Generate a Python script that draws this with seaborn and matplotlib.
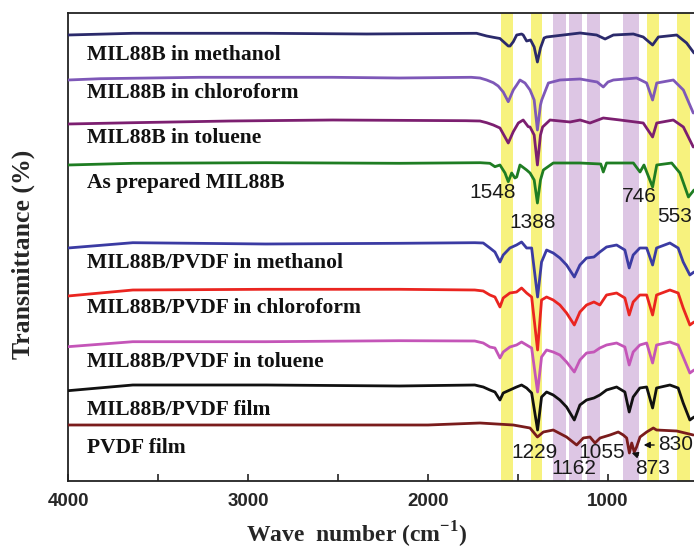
import numpy as np
import pandas as pd
import matplotlib
matplotlib.use("Agg")
import matplotlib.pyplot as plt
import seaborn as sns

# ---------------- data (wavenumber cm-1, transmittance a.u.) ----------------
wn_mil_methanol = [4000, 3640, 2900, 2340, 1730, 1674, 1637, 1600, 1591, 1554, 1544, 1526, 1507, 1480, 1471,
                   1452, 1430, 1410, 1392, 1375, 1355, 1341, 1248, 1155, 1063, 1016, 970, 859, 804, 752, 720,
                   618, 563, 522]
t_mil_methanol = [465, 466.7, 466.7, 466, 466.7, 464, 462.7, 461.5, 460, 454, 454, 458.3, 465, 466, 465,
                  459, 460, 453, 438, 452, 462, 463, 465, 467, 465, 461, 465, 466, 463, 455, 463,
                  465, 457, 447]

wn_mil_chloroform = [4000, 3820, 3270, 2530, 2160, 1760, 1711, 1674, 1637, 1610, 1582, 1554, 1526, 1507, 1489,
                     1461, 1433, 1410, 1392, 1375, 1368, 1331, 1267, 1155, 1060, 1026, 1000, 970, 841, 785,
                     752, 729, 637, 581, 526]
t_mil_chloroform = [420, 421.3, 422.7, 422.7, 422, 422.7, 422, 420, 417.3, 414, 408, 398.3, 410, 415, 420,
                    417, 410, 400, 370, 395, 400, 417, 420, 421, 418, 413, 418, 420, 422, 417,
                    400, 417, 420, 410, 387]

wn_mil_toluene = [4000, 3640, 3100, 2530, 1790, 1711, 1674, 1637, 1600, 1554, 1526, 1498, 1471, 1443, 1433,
                  1410, 1392, 1375, 1363, 1322, 1211, 1155, 1100, 1026, 933, 804, 752, 729, 637, 581, 526]
t_mil_toluene = [376, 377.3, 379, 380, 379.3, 379, 377.3, 375, 372, 357, 368.3, 377, 380, 373.3, 373,
                 365, 335, 365, 373, 380, 378, 380, 377, 382, 380, 377, 363, 377, 380, 373, 353]

wn_mil_prepared = [4000, 3640, 2900, 2160, 1710, 1656, 1628, 1600, 1572, 1554, 1535, 1517, 1507, 1489, 1452,
                   1433, 1410, 1392, 1375, 1359, 1304, 1155, 1040, 1026, 1008, 859, 822, 800, 752, 729,
                   646, 600, 553, 522]
t_mil_prepared = [335, 336.7, 337.3, 336.7, 337.3, 336.7, 333.3, 335, 327, 318.3, 327, 322, 323, 335, 330,
                  327, 320, 297, 320, 330, 337, 337, 336, 328, 337, 337, 328, 335, 313, 335,
                  337, 327, 303, 310]

wn_pvdf_common = [4000, 3640, 2900, 2160, 1740, 1693, 1656, 1628, 1600, 1582, 1545, 1508, 1480, 1452, 1424,
                  1391, 1369, 1341, 1304, 1267, 1230, 1187, 1156, 1119, 1078, 1045, 1008, 952, 906, 882,
                  860, 823, 785, 752, 730, 656, 610, 582, 545, 522]
t_pvdf_methanol = [252, 257.3, 256, 256.7, 257.3, 257, 252, 248, 238, 245, 252, 255, 258, 252, 252,
                   203, 238, 250, 247, 242, 235, 223, 235, 242, 243, 248, 253, 255, 250, 232,
                   245, 252, 252, 235, 252, 257, 252, 238, 225, 228]
t_pvdf_chloroform = [204, 210, 210.7, 210.7, 210, 209, 205, 203, 193, 202, 207, 208, 212, 207, 203,
                     150, 200, 203, 200, 195, 187, 175, 188, 195, 198, 195, 205, 207, 202, 185,
                     198, 205, 205, 185, 205, 210, 207, 192, 175, 178]
t_pvdf_toluene = [153.3, 158.3, 158.3, 159.3, 159, 157, 153, 152, 142, 148, 153, 155, 158, 155, 152,
                  108, 143, 150, 148, 145, 138, 128, 140, 147, 148, 152, 155, 157, 153, 135,
                  148, 155, 157, 137, 155, 158, 155, 143, 127, 130]
t_pvdf_mil_film = [109.3, 115, 115, 114, 115, 113, 110, 108, 100, 107, 110, 113, 115, 112, 107,
                   70, 103, 108, 105, 100, 93, 80, 95, 100, 102, 105, 110, 113, 108, 88,
                   103, 112, 113, 92, 112, 115, 112, 97, 80, 83]

wn_pvdf_film = [4000, 2000, 1711, 1526, 1433, 1392, 1359, 1304, 1230, 1174, 1137, 1100, 1072, 1044, 989,
                943, 915, 896, 881, 868, 854, 841, 822, 785, 748, 730, 618, 526]
t_pvdf_film = [75, 75, 77, 75, 72, 63, 68, 70, 63, 55, 62, 63, 57, 62, 65,
               68, 65, 62, 47, 57, 48, 53, 63, 68, 72, 70, 69, 65]

series_names = ["MIL88B in methanol", "MIL88B in chloroform", "MIL88B in toluene", "As prepared MIL88B",
                "MIL88B/PVDF in methanol", "MIL88B/PVDF in chloroform", "MIL88B/PVDF in toluene",
                "MIL88B/PVDF film", "PVDF film"]
label_levels = [445, 407, 362, 317, 237, 192, 138, 90, 52]

yellow_bands = [(1595, 1527), (1428, 1365), (784, 716), (616, 545)]
purple_bands = [(1305, 1234), (1216, 1146), (1116, 1047), (918, 825)]

peak_labels = ["1548", "1388", "746", "553", "1229", "1162", "1055", "873", "830"]
peak_label_wn = [1639, 1417, 828, 628, 1406, 1189, 1033, 755, 622]
peak_label_t = [307, 277, 303, 283, 47, 32, 47, 31, 55]

# ---------------- style ----------------
sns.set_style("white")
plt.rcParams["font.family"] = ["Liberation Serif", "DejaVu Serif"]
plt.rcParams["mathtext.fontset"] = "custom"
plt.rcParams["mathtext.rm"] = "Liberation Serif:bold"
plt.rcParams["mathtext.bf"] = "Liberation Serif:bold"

colors = ["#2b2a6b", "#7e58b8", "#7c1f70", "#1f7d23", "#3b3ba3", "#ea2520", "#c455b8", "#111111", "#7a1c1c"]

fig = plt.figure(figsize=(6.94, 5.49), dpi=100)
ax = fig.add_axes([68 / 694, 68 / 549, 1 - 68 / 694, (481 - 12.5) / 549])

for a, b in yellow_bands:
    ax.axvspan(b, a, color="#f7f27e", lw=0, zorder=0)
for a, b in purple_bands:
    ax.axvspan(b, a, color="#ddc6e4", lw=0, zorder=0)

datasets = [
    (wn_mil_methanol, t_mil_methanol),
    (wn_mil_chloroform, t_mil_chloroform),
    (wn_mil_toluene, t_mil_toluene),
    (wn_mil_prepared, t_mil_prepared),
    (wn_pvdf_common, t_pvdf_methanol),
    (wn_pvdf_common, t_pvdf_chloroform),
    (wn_pvdf_common, t_pvdf_toluene),
    (wn_pvdf_common, t_pvdf_mil_film),
    (wn_pvdf_film, t_pvdf_film),
]
for (w, t), c, name in zip(datasets, colors, series_names):
    df = pd.DataFrame({"wn": w, "T": t})
    sns.lineplot(data=df, x="wn", y="T", color=c, lw=2.0, sort=False, estimator=None, ax=ax, zorder=3)

for name, lvl in zip(series_names, label_levels):
    ax.text(3894, lvl, name, fontsize=15.5, fontweight="bold", family="Liberation Serif",
            ha="left", va="center", color="#111111")

for lab, w, t in zip(peak_labels, peak_label_wn, peak_label_t):
    ax.text(w, t, lab, fontsize=15, family="Liberation Sans", ha="center", va="center",
            color="#1a1a1a", clip_on=False, zorder=4)

ax.annotate("", xy=(817, 55), xytext=(728, 55),
            arrowprops=dict(arrowstyle="-|>", color="#111111", lw=1.0, mutation_scale=9), zorder=5)
ax.annotate("", xy=(883, 48), xytext=(817, 44),
            arrowprops=dict(arrowstyle="-|>", color="#111111", lw=1.0, mutation_scale=9), zorder=5)

ax.set_xlim(4000, 522)
ax.set_ylim(19, 487.5)
ax.set_xticks([4000, 3000, 2000, 1000])
ax.set_xticks([3500, 2500, 1500], minor=True)
ax.set_xticklabels(["4000", "3000", "2000", "1000"], fontsize=13.5, fontweight="bold", family="Liberation Sans")
ax.set_yticks([])
ax.tick_params(axis="x", which="both", direction="in", length=5, width=1.2, color="#222222",
               bottom=True, top=False, pad=9)
ax.set_xlabel("")
ax.set_ylabel("")
for s in ["left", "bottom", "top"]:
    ax.spines[s].set_linewidth(1.3)
    ax.spines[s].set_color("#222222")
ax.spines["right"].set_visible(False)

fig.text(357 / 694, 1 - 535 / 549, r"Wave  number (cm$^{-1}$)", fontsize=17, fontweight="bold",
         family="Liberation Serif", ha="center", va="center")
fig.text(23 / 694, 1 - 254 / 549, "Transmittance (%)", fontsize=18.5, fontweight="bold",
         family="Liberation Serif", ha="center", va="center", rotation=90)

fig.savefig("out.png", dpi=100)
